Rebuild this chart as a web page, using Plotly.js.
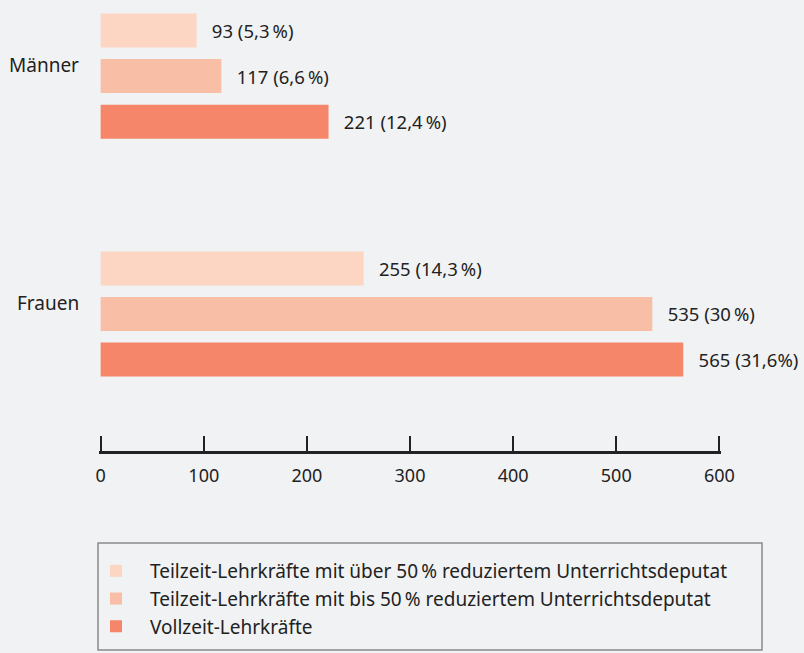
<!DOCTYPE html>
<html>
<head>
<meta charset="utf-8">
<script src="https://cdn.plot.ly/plotly-3.0.1.min.js"></script>
<style>html,body{margin:0;padding:0;background:#f1f2f4;}#chart{width:804px;height:653px;}</style>
</head>
<body>
<div id="chart"></div>
<script>
const categories = ['Männer', 'Frauen'];
const seriesNames = [
  'Teilzeit-Lehrkräfte mit über 50\u202f% reduziertem Unterrichtsdeputat',
  'Teilzeit-Lehrkräfte mit bis 50\u202f% reduziertem Unterrichtsdeputat',
  'Vollzeit-Lehrkräfte'
];
const teilzeitUeber50 = [93, 255];
const teilzeitBis50 = [117, 535];
const vollzeit = [221, 565];
const pctUeber50 = ['5,3\u202f%', '14,3\u202f%'];
const pctBis50 = ['6,6\u202f%', '30\u202f%'];
const pctVollzeit = ['12,4\u202f%', '31,6%'];
const colors = ['#fcd5c3', '#f9bea6', '#f5866a'];
const xTicks = [0, 100, 200, 300, 400, 500, 600];

const values = [teilzeitUeber50, teilzeitBis50, vollzeit];
const pcts = [pctUeber50, pctBis50, pctVollzeit];
const font = 'Noto Sans, Open Sans, sans-serif';

const traces = values.map((v, i) => ({
  type: 'bar',
  orientation: 'h',
  name: seriesNames[i],
  y: categories,
  x: v,
  text: v.map((n, j) => '\u2002\u2009' + n + ' (' + pcts[i][j] + ')'),
  textposition: 'outside',
  textfont: {family: font, size: 18.5, color: '#222'},
  cliponaxis: false,
  constraintext: 'none',
  marker: {color: colors[i]},
  hoverinfo: 'none'
}));

const layout = {
  width: 804, height: 653,
  paper_bgcolor: '#f1f2f4', plot_bgcolor: '#f1f2f4',
  margin: {l: 99, r: 83, t: 0, b: 202, autoexpand: false},
  barmode: 'group',
  bargap: 0.426,
  bargroupgap: 0.253,
  font: {family: font, size: 18, color: '#222'},
  showlegend: true,
  legend: {
    xref: 'container', yref: 'container',
    x: 82 / 804, y: 1 - 552 / 653, xanchor: 'left', yanchor: 'top',
    bgcolor: 'rgba(0,0,0,0)', borderwidth: 0,
    itemwidth: 58,
    font: {family: font, size: 19, color: '#222'},
    tracegroupgap: 0, itemclick: false
  },
  xaxis: {
    range: [-1.6, 601.6], tickvals: xTicks, ticktext: xTicks.map(String),
    showgrid: false, zeroline: false,
    showline: true, linecolor: '#222', linewidth: 2.5,
    ticks: 'inside', ticklen: 15, tickwidth: 2, tickcolor: '#222',
    ticklabelstandoff: 7,
    tickfont: {family: font, size: 18, color: '#222'},
    fixedrange: true
  },
  yaxis: {
    type: 'category', categoryarray: categories,
    range: [1.576, -0.32],
    showgrid: false, zeroline: false, showline: false,
    ticks: '', showticklabels: false, fixedrange: true
  },
  annotations: categories.map((c, i) => ({
    xref: 'paper', yref: 'y', x: 0, y: i, text: c,
    xanchor: 'right', yanchor: 'middle', xshift: -18, yshift: 11,
    showarrow: false, font: {family: font, size: 19, color: '#222'}
  })),
  shapes: [{
    type: 'rect', xref: 'paper', yref: 'paper',
    x0: (98 - 99) / 622, x1: (762 - 99) / 622,
    y0: (451 - 650) / 451, y1: (451 - 543) / 451,
    line: {color: '#8a8a8a', width: 1.5}, fillcolor: 'rgba(0,0,0,0)', layer: 'below'
  }]
};

Plotly.newPlot('chart', traces, layout, {displayModeBar: false, staticPlot: true});
</script>
</body>
</html>
